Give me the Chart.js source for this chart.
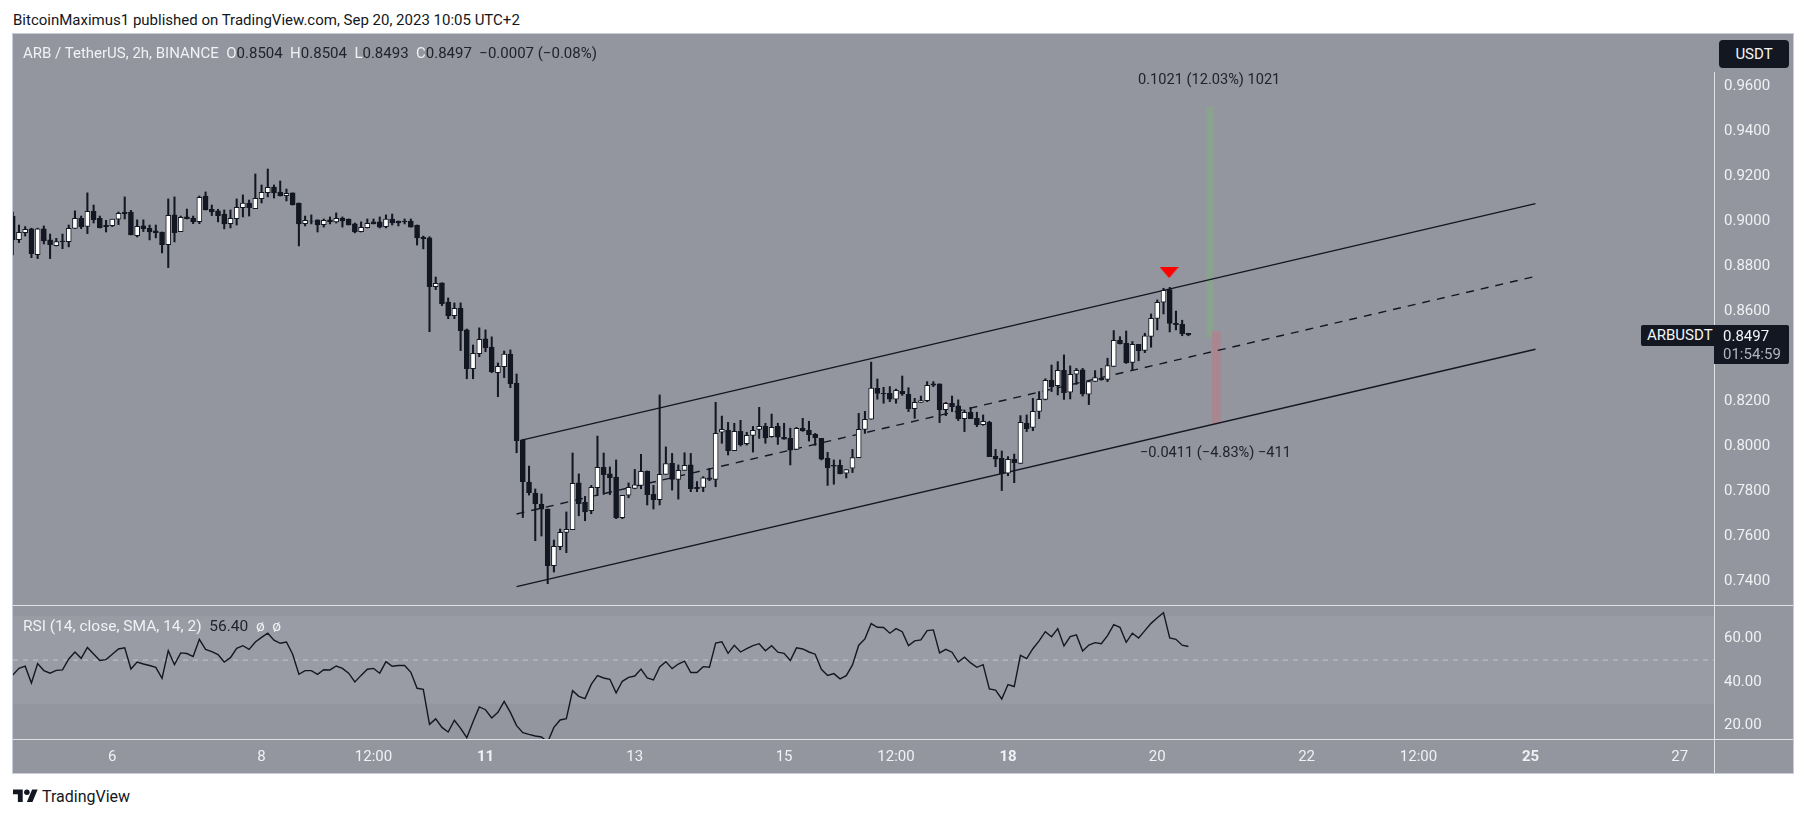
<!DOCTYPE html>
<html>
<head>
<meta charset="utf-8">
<title>ARB / TetherUS</title>
<script src="https://cdn.jsdelivr.net/npm/chart.js@4/dist/chart.umd.min.js"></script>
<style>
    html, body { margin: 0; padding: 0; background: #fff; width: 1807px; height: 818px; overflow: hidden; }
    body { font-family: 'Roboto', sans-serif; font-size: 15px; position: relative; }
    .abs { position: absolute; white-space: pre; line-height: 18px; }
    #frame { position: absolute; left: 13px; top: 34px; width: 1780px; height: 739px; background: #94969f; }
    #frame-edge { position: absolute; left: 12px; top: 33px; width: 1780px; height: 739px; border: 1px solid #c8ccd8; }
    canvas { position: absolute; left: 13px; display: block; }
    .rule { position: absolute; background: #dfe1e7; }
    .white { color: #f0f1f4; }
    .ink { color: #20232c; }
    .tag { position: absolute; background: #131722; color: #f4f5f7; }
</style>
</head>
<body>
<div class="abs" style="left:13px;top:11px;color:#131722;">BitcoinMaximus1 published on TradingView.com, Sep 20, 2023 10:05 UTC+2</div>
<div id="frame"></div>
<canvas id="price-chart" width="1780" height="571" style="top:34px"></canvas>
<canvas id="rsi-chart" width="1780" height="168" style="top:605px"></canvas>
<div id="frame-edge"></div>
<div class="rule" style="left:13px;top:605px;width:1780px;height:1px"></div>
<div class="rule" style="left:13px;top:739px;width:1780px;height:1px"></div>
<div class="rule" style="left:1714px;top:72px;width:1px;height:701px"></div>

<div class="abs white" style="left:23px;top:44px;">ARB / TetherUS, 2h, BINANCE  O<span class="ink">0.8504</span>  H<span class="ink">0.8504</span>  L<span class="ink">0.8493</span>  C<span class="ink">0.8497</span>  <span class="ink">−0.0007 (−0.08%)</span></div>
<div class="abs white" style="left:23px;top:617px;font-size:15.5px;">RSI (14, close, SMA, 14, 2)  <span class="ink">56.40</span>  ø  ø</div>

<div class="abs ink" style="left:1138px;top:70px;font-size:14.6px;">0.1021 (12.03%) 1021</div>
<div class="abs ink" style="left:1140px;top:443px;font-size:14.6px;">−0.0411 (−4.83%) −411</div>

<div class="tag" style="left:1719px;top:40px;width:70px;height:28px;border-radius:4px;text-align:center;line-height:28px;">USDT</div>
<div class="tag" style="left:1641px;top:325px;width:73px;height:21px;border-radius:2px 0 0 2px;line-height:21px;padding-left:0;"><span style="margin-left:6px">ARBUSDT</span></div>
<div class="tag" style="left:1714px;top:325px;width:75px;height:39px;border-radius:0 2px 2px 0;">
    <div style="position:absolute;left:9px;top:2px;line-height:18px">0.8497</div>
    <div style="position:absolute;left:9px;top:20px;line-height:18px;color:#b2b5be">01:54:59</div>
</div>

<svg style="position:absolute;left:13px;top:788px" width="25" height="16" viewBox="0 4 36 19">
    <path fill="#131722" d="M14 22H7V11H0V4h14v18zM28 22h-8l7.5-18h8L28 22z"/>
    <circle fill="#131722" cx="20" cy="8" r="4"/>
</svg>
<div class="abs" style="left:42px;top:788px;color:#131722;font-size:16px;">TradingView</div>

<script>
// bar number = 2h candles counted from Sep 6 00:00
const opens = [
    .9025,.8920,.8951,.8968,.8853,.8968,.8919,.8893,.8914,.8911,
    .8970,.9015,.8979,.9046,.9015,.8984,.8982,.9011,.9043,.9043,
    .8938,.8981,.8970,.8959,.8954,.8898,.9030,.8956,.9021,.9016,
    .9000,.9114,.9055,.9048,.9034,.8991,.9013,.9062,.9083,.9058,
    .9102,.9129,.9154,.9132,.9116,.9128,.9083,.8991,.9003,.9008,
    .8987,.9008,.8999,.9016,.9012,.8990,.8956,.8973,.8999,.8999,
    .8978,.9012,.9003,.9002,.9003,.8985,.8932,.8928,.8711,.8728,
    .8643,.8582,.8616,.8519,.8347,.8413,.8479,.8443,.8329,.8356,
    .8412,.8283,.8030,.7843,.7794,.7744,.7723,.7471,.7556,.7619,
    .7631,.7839,.7753,.7716,.7818,.7908,.7879,.7865,.7685,.7784,
    .7815,.7828,.7892,.7788,.7765,.7877,.7926,.7855,.7895,.7919,
    .7819,.7819,.7862,.7855,.8064,.8073,.7982,.8068,.8013,.8050,
    .8077,.8090,.8045,.8090,.8042,.8037,.7988,.8082,.8073,.8055,
    .8037,.7948,.7917,.7917,.7882,.7905,.7951,.8077,.8122,.8259,
    .8237,.8237,.8211,.8246,.8233,.8169,.8197,.8205,.8279,.8279,
    .8165,.8193,.8181,.8125,.8153,.8126,.8098,.8108,.7957,.7948,
    .7882,.7944,.7926,.8104,.8086,.8157,.8210,.8295,.8271,.8339,
    .8242,.8322,.8341,.8233,.8290,.8304,.8299,.8357,.8473,.8459,
    .8375,.8455,.8428,.8490,.8570,.8642,.8698,.8548,.8544,.8504
];
const closes = [
    .8919,.8953,.8966,.8858,.8968,.8914,.8898,.8911,.8911,.8970,
    .9015,.8978,.9046,.9009,.8972,.8978,.9011,.9037,.9036,.8941,
    .8979,.8969,.8954,.8951,.8898,.9028,.8951,.9019,.9013,.8999,
    .9108,.9052,.9043,.9027,.8990,.9015,.9064,.9083,.9062,.9104,
    .9130,.9153,.9128,.9114,.9126,.9074,.8990,.9006,.9002,.8985,
    .9006,.8999,.9015,.9003,.8985,.8954,.8975,.8993,.8990,.8976,
    .9011,.8994,.8994,.9000,.8976,.8928,.8923,.8711,.8726,.8636,
    .8582,.8615,.8516,.8347,.8415,.8477,.8440,.8332,.8357,.8411,
    .8280,.8027,.7845,.7796,.7747,.7722,.7471,.7557,.7619,.7633,
    .7837,.7747,.7710,.7819,.7908,.7876,.7862,.7685,.7784,.7819,
    .7831,.7890,.7787,.7765,.7877,.7925,.7855,.7895,.7917,.7813,
    .7813,.7862,.7855,.8059,.8077,.7982,.8068,.8009,.8050,.8073,
    .8090,.8039,.8086,.8042,.8033,.7984,.8082,.8071,.8053,.8040,
    .7945,.7907,.7913,.7880,.7898,.7951,.8077,.8122,.8260,.8237,
    .8234,.8211,.8250,.8234,.8169,.8197,.8205,.8273,.8273,.8165,
    .8193,.8178,.8125,.8153,.8125,.8098,.8113,.7956,.7945,.7880,
    .7944,.7929,.8108,.8080,.8157,.8210,.8295,.8267,.8339,.8240,
    .8322,.8339,.8234,.8289,.8307,.8298,.8360,.8473,.8458,.8373,
    .8455,.8427,.8493,.8570,.8642,.8695,.8548,.8542,.8502,.8497
];
const highs = [
    .9043,.8985,.8978,.8971,.8971,.8981,.8945,.8926,.8945,.8985,
    .9048,.9025,.9128,.9074,.9025,.9006,.9011,.9043,.9110,.9050,
    .9008,.9008,.8985,.8985,.8954,.9101,.9110,.9025,.9056,.9025,
    .9114,.9132,.9074,.9055,.9052,.9052,.9101,.9119,.9096,.9212,
    .9163,.9234,.9163,.9181,.9145,.9128,.9083,.9025,.9030,.9008,
    .9012,.9021,.9039,.9021,.9012,.8994,.8999,.9012,.9012,.9021,
    .9030,.9034,.9003,.9012,.9012,.8985,.8936,.8933,.8754,.8728,
    .8661,.8639,.8639,.8523,.8452,.8528,.8519,.8488,.8372,.8425,
    .8430,.8323,.8033,.7914,.7812,.7790,.7723,.7585,.7634,.7710,
    .7972,.7879,.7779,.7828,.8047,.7972,.7910,.7941,.7784,.7839,
    .7899,.7966,.7892,.7828,.8230,.7999,.7970,.7919,.7973,.7970,
    .7845,.7867,.7904,.8197,.8136,.8108,.8104,.8117,.8064,.8090,
    .8175,.8104,.8145,.8104,.8104,.8082,.8086,.8126,.8113,.8059,
    .8037,.7975,.7941,.7941,.7898,.7988,.8148,.8157,.8376,.8301,
    .8264,.8267,.8256,.8314,.8262,.8215,.8225,.8289,.8289,.8279,
    .8197,.8225,.8208,.8163,.8175,.8153,.8141,.8113,.7988,.7981,
    .7956,.7967,.8138,.8141,.8215,.8245,.8302,.8363,.8378,.8408,
    .8359,.8348,.8348,.8289,.8338,.8348,.8393,.8516,.8489,.8514,
    .8467,.8455,.8504,.8590,.8652,.8704,.8708,.8603,.8562,.8504
];
const lows = [
    .8852,.8907,.8936,.8840,.8836,.8901,.8836,.8892,.8880,.8888,
    .8970,.8969,.8947,.8994,.8972,.8954,.8978,.8987,.9012,.8941,
    .8932,.8956,.8919,.8928,.8861,.8796,.8910,.8956,.9012,.8991,
    .8991,.9052,.9027,.8999,.8968,.8972,.8985,.9021,.9025,.9058,
    .9083,.9110,.9105,.9114,.9092,.9074,.8892,.8981,.8990,.8954,
    .8976,.8990,.8994,.8976,.8985,.8950,.8954,.8972,.8990,.8972,
    .8972,.8985,.8981,.8990,.8976,.8896,.8879,.8511,.8698,.8627,
    .8569,.8569,.8427,.8302,.8302,.8400,.8422,.8329,.8222,.8307,
    .8262,.7973,.7685,.7785,.7582,.7603,.7391,.7443,.7542,.7529,
    .7631,.7693,.7671,.7702,.7782,.7788,.7787,.7680,.7680,.7773,
    .7813,.7813,.7741,.7723,.7741,.7877,.7807,.7767,.7895,.7800,
    .7800,.7800,.7849,.7822,.8015,.7963,.7982,.8003,.8007,.7976,
    .8037,.8015,.8042,.8010,.8033,.7919,.7988,.8068,.8025,.8006,
    .7941,.7828,.7833,.7879,.7861,.7885,.7951,.8059,.8122,.8211,
    .8193,.8200,.8193,.8228,.8156,.8126,.8197,.8200,.8267,.8107,
    .8138,.8156,.8116,.8067,.8125,.8089,.8095,.7956,.7911,.7805,
    .7871,.7840,.7926,.8067,.8071,.8125,.8208,.8245,.8230,.8210,
    .8212,.8277,.8225,.8187,.8290,.8295,.8289,.8357,.8456,.8370,
    .8341,.8382,.8418,.8442,.8519,.8590,.8510,.8519,.8493,.8493
];
const rsiValues = [
    43.2,46.2,47.2,39.5,48.4,45.2,44.0,45.3,45.5,50.5,
    53.7,50.8,55.8,52.8,49.8,50.2,52.7,55.1,55.6,45.9,
    49.1,48.2,47.5,46.7,41.7,54.3,47.9,53.3,53.0,51.6,
    59.5,54.9,53.9,52.5,49.1,51.1,55.4,56.6,54.9,58.3,
    60.4,62.3,59.1,57.7,58.3,52.7,43.5,45.2,45.2,43.5,
    45.6,45.5,47.3,46.2,44.0,40.0,43.0,45.8,46.2,44.0,
    49.3,47.2,47.5,47.5,44.4,37.1,36.6,20.6,23.1,19.2,
    17.1,22.5,18.8,14.5,21.8,28.6,27.3,23.5,26.1,31.1,
    26.1,20.0,16.8,16.0,15.3,14.8,12.5,19.2,22.6,23.2,
    36.0,33.4,32.4,38.9,42.9,
    41.8,41.2,35.0,40.3,42.1,42.7,45.9,41.8,40.9,46.9,
    49.3,46.1,48.2,49.5,44.3,44.3,47.0,46.7,57.8,58.4,
    53.1,56.8,53.7,55.2,56.6,57.5,54.3,56.6,53.6,53.1,
    49.8,55.6,55.1,53.7,52.7,45.8,43.0,43.8,41.4,42.9,
    47.8,56.8,59.7,66.7,65.0,64.9,62.3,64.4,63.0,56.6,
    58.8,59.2,63.5,63.8,53.3,54.9,53.6,49.1,51.3,48.7,
    46.7,47.9,36.8,36.3,32.2,38.8,37.9,52.2,50.7,55.2,
    58.8,63.0,60.7,64.4,56.5,60.7,61.5,54.2,56.9,58.0,
    57.5,61.2,66.2,65.0,58.1,62.3,60.1,63.5,66.8,69.4,
    71.7,60.1,59.5,56.8,56.2
];
const firstBar = -16;

const timeTickBars = [0, 24, 42, 60, 84, 108, 126, 144, 168, 192, 210, 228, 252];
const timeTickLabels = ['6', '8', '12:00', '11', '13', '15', '12:00', '18', '20', '22', '12:00', '25', '27'];
const boldTimeLabels = ['11', '18', '25'];
const priceTicks = [0.74, 0.76, 0.78, 0.80, 0.82, 0.84, 0.86, 0.88, 0.90, 0.92, 0.94, 0.96];
const rsiTicks = [20, 40, 60];

const channelUpperBars = [66, 228.8];
const channelUpper = [0.8030, 0.9080];
const channelMiddleBars = [65, 228.8];
const channelMiddle = [0.7701, 0.8757];
const channelLowerBars = [65, 228.8];
const channelLower = [0.7378, 0.8433];

const measureUp = { bar: 176.5, from: 0.8488, to: 0.9509 };
const measureDown = { bar: 177.5, from: 0.8511, to: 0.8100 };
const topMarker = { bar: 169.9, price: 0.8774 };

const rsiBandLimits = [30, 70];
const rsiMidLevel = 50;

// shared x range so both panes line up
const xMin = -15.96;
const xMax = 257.5;

const INK = '#131722';
const LABEL = '#f0f1f4';
const FONT = 'Roboto';

const barNumbers = opens.map((_, i) => firstBar + i);

function pairs(xs, ys) {
    return xs.map((x, i) => ({ x: x, y: ys[i] }));
}

function makeTriangle() {
    const c = document.createElement('canvas');
    c.width = 19;
    c.height = 11;
    const ctx = c.getContext('2d');
    ctx.fillStyle = '#ff0000';
    ctx.beginPath();
    ctx.moveTo(0, 0);
    ctx.lineTo(19, 0);
    ctx.lineTo(9.5, 11);
    ctx.closePath();
    ctx.fill();
    return c;
}

// the plot has to fill the pane, labels only sit in the axis strip
function fitPriceAxis(scale) {
    scale.width = 79;
    scale.paddingTop = 0;
    scale.paddingBottom = 0;
}

new Chart(document.getElementById('price-chart'), {
    type: 'bar',
    data: {
        datasets: [
            {
                // candle bodies
                data: barNumbers.map((b, i) => ({ x: b, y: [opens[i], closes[i]] })),
                backgroundColor: opens.map((o, i) => closes[i] > o ? '#ffffff' : INK),
                borderColor: INK,
                borderWidth: 1,
                borderSkipped: false,
                barThickness: 5,
                grouped: false,
                order: 3
            },
            {
                // wicks
                data: barNumbers.map((b, i) => ({ x: b, y: [lows[i], highs[i]] })),
                backgroundColor: INK,
                borderWidth: 0,
                barThickness: 1.4,
                grouped: false,
                order: 4
            },
            {
                data: [{ x: measureUp.bar, y: [measureUp.from, measureUp.to] }],
                backgroundColor: '#8ba290',
                borderWidth: 0,
                barThickness: 7,
                grouped: false,
                order: 7
            },
            {
                data: [{ x: measureDown.bar, y: [measureDown.from, measureDown.to] }],
                backgroundColor: '#a98790',
                borderWidth: 0,
                barThickness: 8,
                grouped: false,
                order: 6
            },
            {
                type: 'line',
                data: pairs(channelUpperBars, channelUpper),
                borderColor: INK,
                borderWidth: 1.4,
                pointRadius: 0,
                order: 5
            },
            {
                type: 'line',
                data: pairs(channelMiddleBars, channelMiddle),
                borderColor: INK,
                borderWidth: 1.4,
                borderDash: [8, 7],
                pointRadius: 0,
                order: 5
            },
            {
                type: 'line',
                data: pairs(channelLowerBars, channelLower),
                borderColor: INK,
                borderWidth: 1.4,
                pointRadius: 0,
                order: 5
            },
            {
                type: 'line',
                data: [{ x: topMarker.bar, y: topMarker.price }],
                showLine: false,
                pointStyle: makeTriangle(),
                pointRadius: 10,
                order: 1
            }
        ]
    },
    options: {
        responsive: false,
        animation: false,
        devicePixelRatio: 1,
        layout: { padding: 0, autoPadding: false },
        plugins: { legend: { display: false }, tooltip: { enabled: false } },
        scales: {
            x: { type: 'linear', min: xMin, max: xMax, offset: false, display: false },
            y: {
                position: 'right',
                min: 0.72964,
                max: 0.9834,
                afterFit: fitPriceAxis,
                afterBuildTicks: (scale) => { scale.ticks = priceTicks.map(v => ({ value: v })); },
                grid: { display: false, drawTicks: false },
                border: { display: false },
                ticks: {
                    color: LABEL,
                    padding: 10,
                    font: { family: FONT, size: 15 },
                    callback: (v) => Number(v).toFixed(4)
                }
            }
        }
    }
});

new Chart(document.getElementById('rsi-chart'), {
    type: 'line',
    data: {
        datasets: [
            {
                // RSI line
                data: pairs(barNumbers, rsiValues),
                borderColor: INK,
                borderWidth: 1.4,
                pointRadius: 0,
                tension: 0,
                order: 1
            },
            {
                // dashed mid level
                data: [{ x: xMin, y: rsiMidLevel }, { x: xMax, y: rsiMidLevel }],
                borderColor: '#c4c6cc',
                borderWidth: 1,
                borderDash: [5, 5],
                pointRadius: 0,
                order: 2
            },
            {
                // 30-70 band
                data: [{ x: xMin, y: rsiBandLimits[1] }, { x: xMax, y: rsiBandLimits[1] }],
                borderWidth: 0,
                pointRadius: 0,
                backgroundColor: '#9a9ca5',
                fill: { value: rsiBandLimits[0] },
                order: 3
            }
        ]
    },
    options: {
        responsive: false,
        animation: false,
        devicePixelRatio: 1,
        layout: { padding: 0, autoPadding: false },
        plugins: { legend: { display: false }, tooltip: { enabled: false } },
        scales: {
            x: {
                type: 'linear',
                min: xMin,
                max: xMax,
                afterFit: (scale) => {
                    scale.height = 34;
                    scale.paddingLeft = 0;
                    scale.paddingRight = 0;
                },
                afterBuildTicks: (scale) => { scale.ticks = timeTickBars.map(v => ({ value: v })); },
                grid: { display: false, drawTicks: false },
                border: { display: false },
                ticks: {
                    color: LABEL,
                    padding: 9,
                    maxRotation: 0,
                    autoSkip: false,
                    font: (ctx) => {
                        const label = timeTickLabels[timeTickBars.indexOf(ctx.tick ? ctx.tick.value : -1)];
                        return { family: FONT, size: 15, weight: boldTimeLabels.includes(label) ? 'bold' : 'normal' };
                    },
                    callback: (v) => timeTickLabels[timeTickBars.indexOf(v)]
                }
            },
            y: {
                position: 'right',
                min: 13.9,
                max: 75.2,
                afterFit: fitPriceAxis,
                afterBuildTicks: (scale) => { scale.ticks = rsiTicks.map(v => ({ value: v })); },
                grid: { display: false, drawTicks: false },
                border: { display: false },
                ticks: {
                    color: LABEL,
                    padding: 10,
                    font: { family: FONT, size: 15 },
                    callback: (v) => Number(v).toFixed(2)
                }
            }
        }
    }
});
</script>
</body>
</html>
